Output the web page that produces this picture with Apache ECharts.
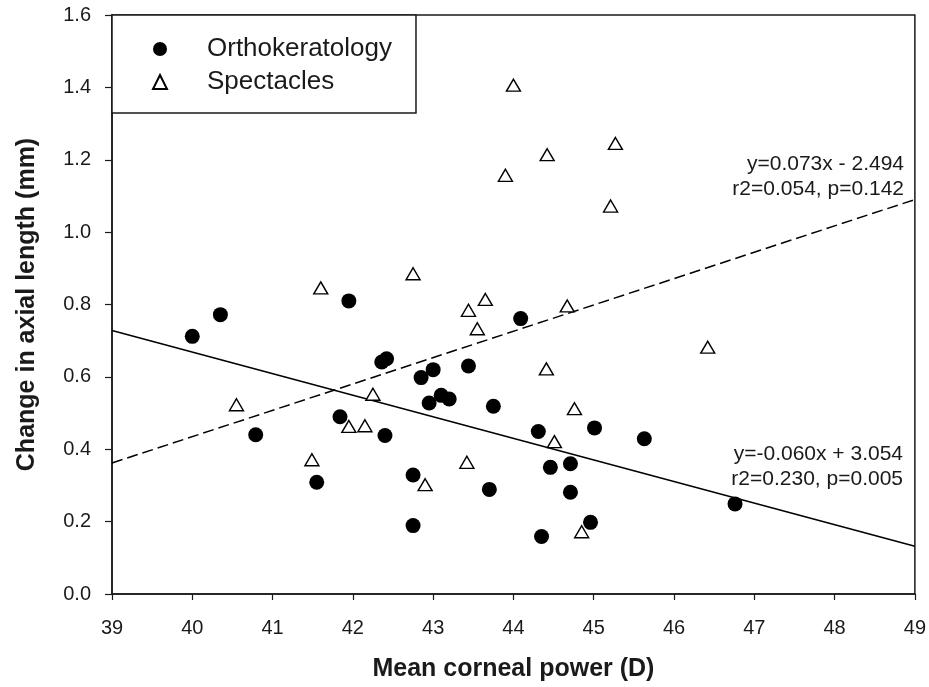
<!DOCTYPE html>
<html>
<head>
<meta charset="utf-8">
<script src="https://cdn.jsdelivr.net/npm/echarts@6/dist/echarts.min.js"></script>
<style>
html,body{margin:0;padding:0;background:#fff;}
#chart{width:929px;height:687px;}
</style>
</head>
<body>
<div id="chart"></div>
<script>
// ---- data ----
var orthoX = [40.00, 40.35, 41.95, 40.79, 42.36, 42.42, 42.85, 43.00, 42.95, 43.10,
              43.20, 43.44, 43.75, 41.84, 42.40, 41.55, 42.75, 42.75, 43.70, 44.09,
              44.31, 45.01, 45.63, 44.46, 44.71, 44.71, 44.96, 44.35, 46.76];
var orthoY = [0.712, 0.772, 0.810, 0.440, 0.641, 0.650, 0.598, 0.620, 0.528, 0.549,
              0.539, 0.630, 0.519, 0.490, 0.438, 0.309, 0.329, 0.189, 0.289, 0.761,
              0.449, 0.459, 0.429, 0.350, 0.360, 0.281, 0.198, 0.159, 0.249];
var specX = [44.00, 43.90, 42.75, 41.60, 43.65, 43.44, 44.42, 45.27, 45.21, 44.67,
             43.55, 40.55, 42.25, 41.95, 42.15, 41.49, 42.90, 43.42, 46.42, 44.41,
             44.76, 44.51, 44.85];
var specY = [1.406, 1.157, 0.885, 0.846, 0.814, 0.784, 1.214, 1.245, 1.072, 0.796,
             0.733, 0.523, 0.552, 0.463, 0.465, 0.371, 0.302, 0.364, 0.682, 0.622,
             0.512, 0.421, 0.172];
var orthoFitX = [39, 49];
var orthoFitY = [0.728, 0.132];
var specFitX = [39, 49];
var specFitY = [0.362, 1.090];
var seriesNames = ['Orthokeratology', 'Spectacles'];
var specEq = ['y=0.073x - 2.494', 'r2=0.054, p=0.142'];
var orthoEq = ['y=-0.060x + 3.054', 'r2=0.230, p=0.005'];
var xTickMin = 39, xTickMax = 49, xTickStep = 1;
var yTickMin = 0, yTickMax = 1.6, yTickStep = 0.2;
var xTitle = 'Mean corneal power (D)';
var yTitle = 'Change in axial length (mm)';

function zip(a, b) { return a.map(function (v, i) { return [v, b[i]]; }); }

var FONT = '"Liberation Sans", Arial, sans-serif';
var INK = '#1a1a1a';

var chart = echarts.init(document.getElementById('chart'), null, {renderer: 'canvas'});
chart.setOption({
  animation: false,
  backgroundColor: '#ffffff',
  grid: {left: 112, right: 14, top: 15, bottom: 92, show: true, borderColor: INK, borderWidth: 1.5, backgroundColor: 'transparent'},
  legend: {
    orient: 'vertical', left: 112, top: 15,
    data: [{name: seriesNames[0], icon: 'circle'}, {name: seriesNames[1], icon: 'triangle'}],
    itemWidth: 14, itemHeight: 14, itemGap: 7,
    padding: [21, 24, 18, 40],
    borderColor: INK, borderWidth: 1.5, backgroundColor: '#fff',
    textStyle: {fontFamily: FONT, fontSize: 26, color: INK, lineHeight: 26, padding: [0, 0, 0, 35]}
  },
  xAxis: {
    type: 'value', min: xTickMin, max: xTickMax, interval: xTickStep,
    name: xTitle, nameLocation: 'middle', nameGap: 63,
    nameTextStyle: {fontFamily: FONT, fontSize: 25, fontWeight: 'bold', color: INK},
    axisLine: {lineStyle: {color: INK, width: 1.5}},
    axisTick: {inside: false, length: 6, lineStyle: {color: INK, width: 1.2}},
    axisLabel: {fontFamily: FONT, fontSize: 20, color: INK, margin: 24},
    splitLine: {show: false}
  },
  yAxis: {
    type: 'value', min: yTickMin, max: yTickMax, interval: yTickStep,
    name: yTitle, nameLocation: 'middle', nameGap: 72, nameRotate: 90,
    nameTextStyle: {fontFamily: FONT, fontSize: 25, fontWeight: 'bold', color: INK},
    axisLine: {lineStyle: {color: INK, width: 1.5}},
    axisTick: {inside: false, length: 7, lineStyle: {color: INK, width: 1.2}},
    axisLabel: {fontFamily: FONT, fontSize: 20, color: INK, margin: 21,
      formatter: function (v) { return v.toFixed(1); }},
    splitLine: {show: false}
  },
  series: [
    {
      name: seriesNames[0], type: 'scatter', symbol: 'circle', symbolSize: 15,
      itemStyle: {color: '#000', borderColor: '#000', borderWidth: 0, opacity: 1},
      data: zip(orthoX, orthoY), z: 5
    },
    {
      name: seriesNames[1], type: 'scatter', symbol: 'triangle', symbolSize: [14, 12],
      itemStyle: {color: '#fff', borderColor: '#000', borderWidth: 1.4, opacity: 1},
      data: zip(specX, specY), z: 4
    },
    {
      name: 'orthoFit', type: 'line', showSymbol: false, symbol: 'none', silent: true,
      lineStyle: {color: '#000', width: 1.5, type: 'solid'},
      data: zip(orthoFitX, orthoFitY), z: 3
    },
    {
      name: 'specFit', type: 'line', showSymbol: false, symbol: 'none', silent: true,
      lineStyle: {color: '#000', width: 1.5, type: [11, 5]},
      data: zip(specFitX, specFitY), z: 3
    }
  ],
  graphic: [
    {type: 'text', right: 25, top: 152, style: {text: specEq.join('\n'), font: '21px ' + FONT, fill: INK, textAlign: 'right', lineHeight: 25}},
    {type: 'text', right: 26, top: 442, style: {text: orthoEq.join('\n'), font: '21px ' + FONT, fill: INK, textAlign: 'right', lineHeight: 25}}
  ]
});
</script>
</body>
</html>
